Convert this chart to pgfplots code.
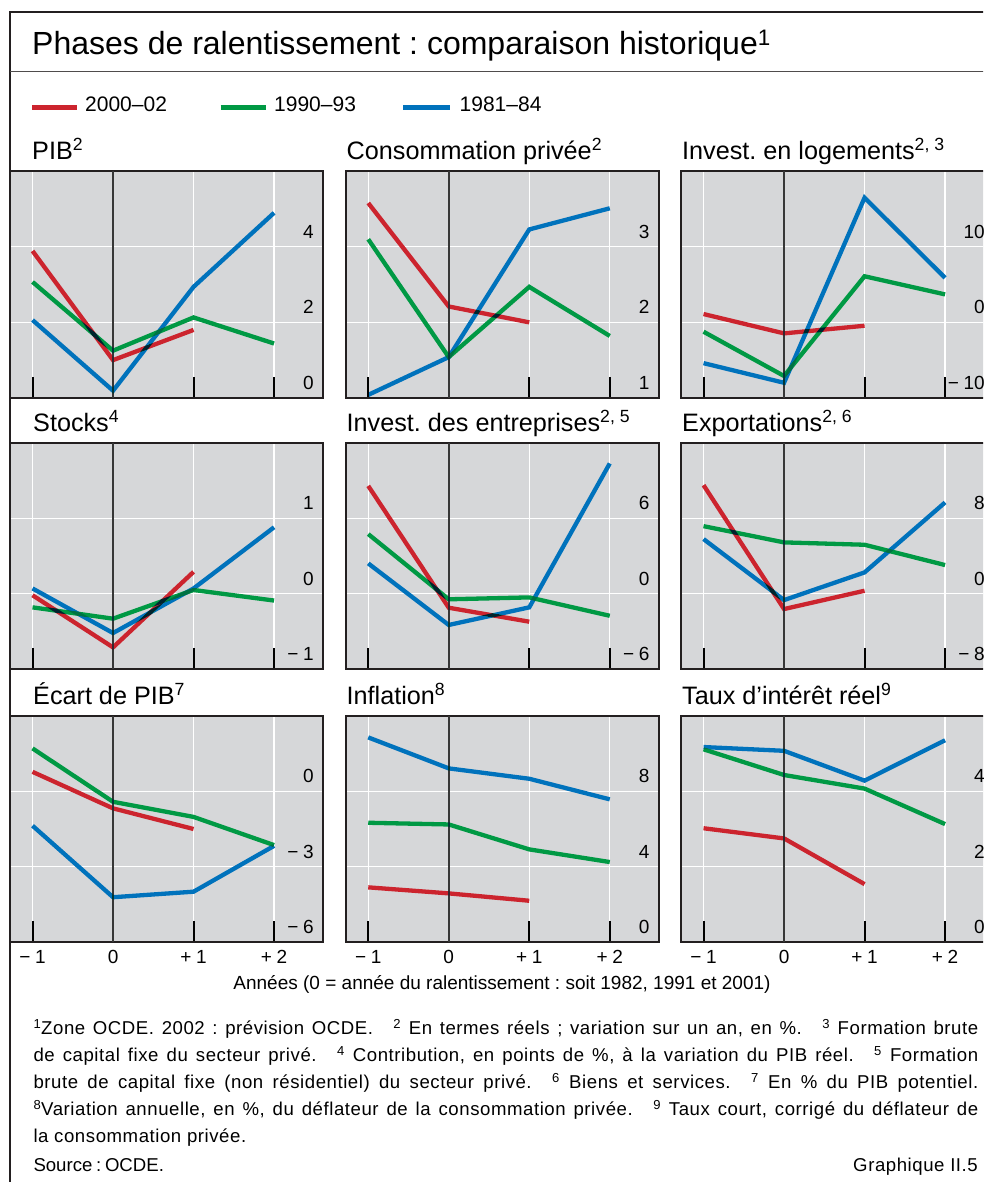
\documentclass[border=0pt]{standalone}
\usepackage{pgfplots}
\pgfplotsset{compat=1.18}
\usepackage{fontspec}
\setmainfont{Liberation Sans}
\newfontfamily\fnfam[LetterSpace=3]{Liberation Sans}
\definecolor{cred}{RGB}{204,36,46}
\definecolor{cgreen}{RGB}{0,153,68}
\definecolor{cblue}{RGB}{0,114,188}
\definecolor{bggray}{RGB}{214,215,217}
\definecolor{framecol}{RGB}{35,31,32}
\definecolor{zerocol}{RGB}{55,55,55}
\newcommand\ticklabfont{\fontsize{19}{22}\selectfont}
\newcommand\ptitlefont{\fontsize{25.2}{28}\selectfont}
\newcommand\fnfont{\fnfam\fontsize{18.6}{27}\selectfont}
\newcommand\gap{\hspace{1.1em}}
\newcommand\sg{\hspace{0.25em}}
\pgfplotsset{
  panel/.style={
    scale only axis, width=313pt, height=226.6pt, anchor=south west,
    xmin=-1.28, xmax=2.608,
    xtick={-1,0,1,2}, xticklabels={,,,},
    xtick pos=left,
    grid=major, major grid style={white, line width=1.3pt},
    axis background/.style={fill=bggray},
    axis line style={draw=framecol, line width=1.8pt},
    major tick length=21pt,
    xtick style={black, line width=2pt},
    ytick style={draw=none},
    yticklabel pos=right,
    tick label style={font=\ticklabfont},
    yticklabel style={anchor=base east, inner sep=0pt, xshift=-9pt, yshift=8.5pt},
    xticklabel style={anchor=base, inner sep=0pt, yshift=-21pt},
  },
  bottomrow/.style={xticklabels={−\sg 1,0,+\sg 1,+\sg 2}},
  ser/.style={line width=4.3pt, no marks, blend mode=darken},
}
\newcommand\zeroline{\draw[zerocol, line width=1.6pt] ({axis cs:0,0}|-{rel axis cs:0,0}) -- ({axis cs:0,0}|-{rel axis cs:0,1});}
\begin{document}
\frenchspacing
\begin{tikzpicture}
\path[use as bounding box] (0pt,0pt) rectangle (983pt,1182pt);
\clip (0pt,0pt) rectangle (983pt,1182pt);
% frame
\draw[framecol, line width=1.5pt] (10pt,-5pt) -- (10pt,1170pt) -- (995pt,1170pt);
\draw[framecol!80, line width=1.5pt] (10pt,1110.5pt) -- (995pt,1110.5pt);
% title
\node[anchor=base west, inner sep=0pt] at (32pt,1127pt) {\fontsize{32}{38}\selectfont Phases de ralentissement : comparaison historique\textsuperscript{1}};
% legend
\draw[cred, line width=5pt] (32pt,1074.7pt) -- (77pt,1074.7pt);
\node[anchor=base west, inner sep=0pt] at (85pt,1070.3pt) {\fontsize{21}{24}\selectfont 2000–02};
\draw[cgreen, line width=5pt] (220.5pt,1074.7pt) -- (265.5pt,1074.7pt);
\node[anchor=base west, inner sep=0pt] at (274pt,1070.3pt) {\fontsize{21}{24}\selectfont 1990–93};
\draw[cblue, line width=5pt] (403pt,1074.7pt) -- (449.5pt,1074.7pt);
\node[anchor=base west, inner sep=0pt] at (459.5pt,1070.3pt) {\fontsize{21}{24}\selectfont 1981–84};
% panel titles
\node[anchor=base west, inner sep=0pt] at (32pt,1022.5pt) {\ptitlefont PIB\textsuperscript{2}};
\node[anchor=base west, inner sep=0pt] at (346.5pt,1022.5pt) {\ptitlefont Consommation privée\textsuperscript{2}};
\node[anchor=base west, inner sep=0pt] at (682pt,1022.5pt) {\ptitlefont Invest. en logements\textsuperscript{2, 3}};
\node[anchor=base west, inner sep=0pt] at (33pt,750.8pt) {\ptitlefont Stocks\textsuperscript{4}};
\node[anchor=base west, inner sep=0pt] at (346.5pt,750.8pt) {\ptitlefont Invest. des entreprises\textsuperscript{2, 5}};
\node[anchor=base west, inner sep=0pt] at (682pt,750.8pt) {\ptitlefont Exportations\textsuperscript{2, 6}};
\node[anchor=base west, inner sep=0pt] at (33pt,477.5pt) {\ptitlefont Écart de PIB\textsuperscript{7}};
\node[anchor=base west, inner sep=0pt] at (346.5pt,477.5pt) {\ptitlefont Inflation\textsuperscript{8}};
\node[anchor=base west, inner sep=0pt] at (682pt,477.5pt) {\ptitlefont Taux d’intérêt réel\textsuperscript{9}};

% ---------- Row 1
\begin{axis}[panel, at={(10pt,784.1pt)}, ymin=0, ymax=6, ytick={0,2,4}, yticklabels={0,2,4}]
\zeroline
\addplot[ser, cgreen] coordinates {(-1,3.07)(0,1.25)(1,2.13)(2,1.44)};
\addplot[ser, cred] coordinates {(-1,3.89)(0,1.00)(1,1.80)};
\addplot[ser, cblue] coordinates {(-1,2.06)(0,0.19)(1,2.94)(2,4.90)};
\end{axis}
\begin{axis}[panel, at={(345.7pt,784.1pt)}, ymin=1, ymax=4, ytick={1,2,3}, yticklabels={1,2,3}]
\zeroline
\addplot[ser, cgreen] coordinates {(-1,3.10)(0,1.54)(1,2.47)(2,1.82)};
\addplot[ser, cred] coordinates {(-1,3.58)(0,2.21)(1,2.00)};
\addplot[ser, cblue] coordinates {(-1,1.04)(0,1.54)(1,3.23)(2,3.51)};
\end{axis}
\begin{axis}[panel, at={(681pt,784.1pt)}, ymin=-10, ymax=20, ytick={-10,0,10}, yticklabels={−\sg 10,0,10}]
\zeroline
\addplot[ser, cgreen] coordinates {(-1,-1.24)(0,-7.1)(1,6.1)(2,3.7)};
\addplot[ser, cred] coordinates {(-1,1.1)(0,-1.46)(1,-0.45)};
\addplot[ser, cblue] coordinates {(-1,-5.4)(0,-8.0)(1,16.5)(2,5.9)};
\end{axis}
% ---------- Row 2
\begin{axis}[panel, at={(10pt,512.7pt)}, ymin=-1, ymax=2, ytick={-1,0,1}, yticklabels={−\sg 1,0,1}]
\zeroline
\addplot[ser, cgreen] coordinates {(-1,-0.18)(0,-0.33)(1,0.05)(2,-0.09)};
\addplot[ser, cred] coordinates {(-1,-0.02)(0,-0.71)(1,0.29)};
\addplot[ser, cblue] coordinates {(-1,0.07)(0,-0.52)(1,0.07)(2,0.88)};
\end{axis}
\begin{axis}[panel, at={(345.7pt,512.7pt)}, ymin=-6, ymax=12, ytick={-6,0,6}, yticklabels={−\sg 6,0,6}]
\zeroline
\addplot[ser, cgreen] coordinates {(-1,4.74)(0,-0.44)(1,-0.29)(2,-1.75)};
\addplot[ser, cred] coordinates {(-1,8.57)(0,-1.11)(1,-2.22)};
\addplot[ser, cblue] coordinates {(-1,2.41)(0,-2.48)(1,-1.08)(2,10.35)};
\end{axis}
\begin{axis}[panel, at={(681pt,512.7pt)}, ymin=-8, ymax=16, ytick={-8,0,8}, yticklabels={−\sg 8,0,8}]
\zeroline
\addplot[ser, cgreen] coordinates {(-1,7.16)(0,5.44)(1,5.19)(2,3.04)};
\addplot[ser, cred] coordinates {(-1,11.5)(0,-1.62)(1,0.32)};
\addplot[ser, cblue] coordinates {(-1,5.79)(0,-0.67)(1,2.26)(2,9.67)};
\end{axis}
% ---------- Row 3
\begin{axis}[panel, bottomrow, at={(10pt,239.7pt)}, ymin=-6, ymax=3, ytick={-6,-3,0}, yticklabels={−\sg 6,−\sg 3,0}]
\zeroline
\addplot[ser, cgreen] coordinates {(-1,1.70)(0,-0.42)(1,-1.02)(2,-2.14)};
\addplot[ser, cred] coordinates {(-1,0.77)(0,-0.68)(1,-1.50)};
\addplot[ser, cblue] coordinates {(-1,-1.37)(0,-4.21)(1,-3.99)(2,-2.17)};
\end{axis}
\begin{axis}[panel, bottomrow, at={(345.7pt,239.7pt)}, ymin=0, ymax=12, ytick={0,4,8}, yticklabels={0,4,8}]
\zeroline
\addplot[ser, cgreen] coordinates {(-1,6.33)(0,6.24)(1,4.92)(2,4.25)};
\addplot[ser, cred] coordinates {(-1,2.91)(0,2.59)(1,2.20)};
\addplot[ser, cblue] coordinates {(-1,10.85)(0,9.21)(1,8.66)(2,7.57)};
\end{axis}
\begin{axis}[panel, bottomrow, at={(681pt,239.7pt)}, ymin=0, ymax=6, ytick={0,2,4}, yticklabels={0,2,4}]
\zeroline
\addplot[ser, cgreen] coordinates {(-1,5.11)(0,4.43)(1,4.07)(2,3.13)};
\addplot[ser, cred] coordinates {(-1,3.02)(0,2.75)(1,1.54)};
\addplot[ser, cblue] coordinates {(-1,5.17)(0,5.07)(1,4.28)(2,5.35)};
\end{axis}
% x label
\node[anchor=base, inner sep=0pt] at (502pt,192pt) {\fontsize{19}{22}\selectfont Années (0 = année du ralentissement : soit 1982, 1991 et 2001)};
% footnotes
\node[anchor=base west, inner sep=0pt] at (33.3pt,147.7pt) {\fnfont\makebox[944.7pt][s]{\textsuperscript{1}Zone OCDE. 2002 : prévision OCDE.\gap\textsuperscript{2} En termes réels ; variation sur un an, en \%.\gap\textsuperscript{3} Formation brute}};
\node[anchor=base west, inner sep=0pt] at (33.3pt,120.7pt) {\fnfont\makebox[944.7pt][s]{de capital fixe du secteur privé.\gap\textsuperscript{4} Contribution, en points de \%, à la variation du PIB réel.\gap\textsuperscript{5} Formation}};
\node[anchor=base west, inner sep=0pt] at (33.3pt,93.7pt) {\fnfont\makebox[944.7pt][s]{brute de capital fixe (non résidentiel) du secteur privé.\gap\textsuperscript{6} Biens et services.\gap\textsuperscript{7} En \% du PIB potentiel.}};
\node[anchor=base west, inner sep=0pt] at (33.3pt,66.7pt) {\fnfont\makebox[944.7pt][s]{\textsuperscript{8}Variation annuelle, en \%, du déflateur de la consommation privée.\gap\textsuperscript{9} Taux court, corrigé du déflateur de}};
\node[anchor=base west, inner sep=0pt] at (33.3pt,39.7pt) {\fnfont la consommation privée.};
\node[anchor=base west, inner sep=0pt] at (33.3pt,10.5pt) {\fontsize{18.6}{27}\selectfont Source\hspace{0.2em}:\hspace{0.2em}OCDE.};
\node[anchor=base east, inner sep=0pt] at (978pt,10.5pt) {\fnfont Graphique II.5};
\end{tikzpicture}
\end{document}
